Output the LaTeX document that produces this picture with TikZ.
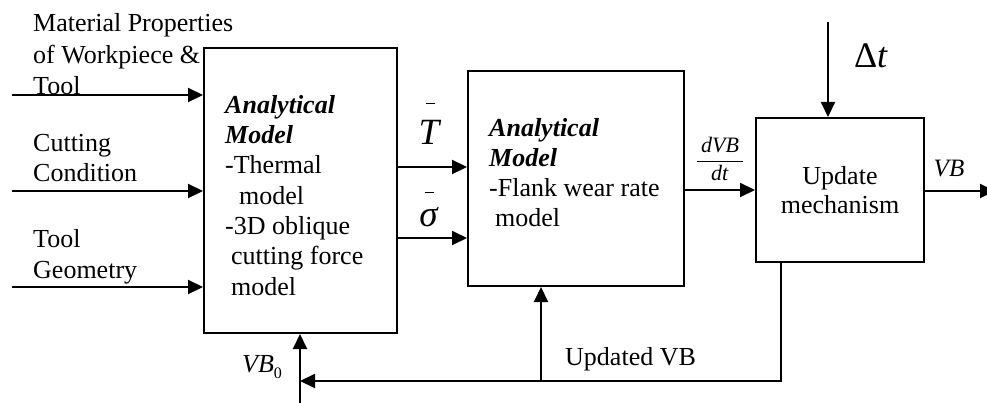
\documentclass[tikz,border=0pt]{standalone}
\usepackage{fontspec}
\setmainfont{Liberation Serif}
\usetikzlibrary{arrows.meta}
\begin{document}
\begin{tikzpicture}[x=1pt,y=-1pt,
  box/.style={draw,line width=2pt,inner sep=0pt},
  flow/.style={line width=2pt,line join=miter,-{Triangle[length=15pt,width=14pt]}},
  wire/.style={line width=2pt,line join=miter},
  lbl/.style={inner sep=0pt,align=left,font=\fontsize{26}{30.3}\selectfont},
  sym/.style={inner sep=0pt,align=center}]
\useasboundingbox (0,0) rectangle (987,403);

% blocks
\node[box,minimum width=193pt,minimum height=285pt] (anl) at (300.5,190.5) {};
\node[box,minimum width=216pt,minimum height=215pt] (wear) at (576,178.5) {};
\node[box,minimum width=168pt,minimum height=144pt,align=center,
      font=\fontsize{26}{29}\selectfont] (upd) at (840,190) {Update\\mechanism};

% block texts (anchored at the baseline of the last line)
\node[lbl,anchor=base west] (anltxt) at (225,295)
  {\textbf{\textit{Analytical}}\\\textbf{\textit{Model}}\\-Thermal\\\hspace*{14pt}model\\-3D oblique\\\hspace*{6pt}cutting force\\\hspace*{6pt}model};
\node[lbl,anchor=base west] (weartxt) at (489,227)
  {\textbf{\textit{Analytical}}\\\textbf{\textit{Model}}\\-Flank wear rate\\\hspace*{6pt}model};

% inputs
\node[lbl,anchor=base west,font=\fontsize{26}{31.5}\selectfont] (matl) at (33,95)
  {Material Properties\\of Workpiece \&\\Tool};
\node[lbl,anchor=base west] (cond) at (33,182) {Cutting\\Condition};
\node[lbl,anchor=base west] (geom) at (33,278) {Tool\\Geometry};

\coordinate (in1) at (12,95);
\coordinate (in2) at (12,191);
\coordinate (in3) at (12,287);
\draw[flow] (in1) -- (in1 -| anl.west);
\draw[flow] (in2) -- (in2 -| anl.west);
\draw[flow] (in3) -- (in3 -| anl.west);

% mean temperature and stress
\node[sym,anchor=base,font=\fontsize{37}{30}\selectfont] (tlab) at (430,145)
  {\rule{9pt}{1.2pt}\\[11pt]\textit{T}};
\node[sym,anchor=base,font=\fontsize{37}{30}\selectfont] (slab) at (429,227)
  {\rule{9pt}{1.2pt}\\[4pt]\textit{σ}};
\coordinate (tl) at (0,167);
\coordinate (sl) at (0,238);
\draw[flow] (anl.east |- tl) -- (wear.west |- tl);
\draw[flow] (anl.east |- sl) -- (wear.west |- sl);

% wear rate
\node[inner sep=0pt,anchor=base,font=\fontsize{22}{22}\selectfont] (rate) at (720,166.5)
  {$\displaystyle\frac{\hbox{\,\textit{dVB}\,}}{\hbox{\textit{dt}}}$};
\coordinate (rl) at (0,190);
\draw[flow] (wear.east |- rl) -- (upd.west |- rl);

% time step
\node[inner sep=0pt,anchor=base,font=\fontsize{36}{36}\selectfont] (dtlab) at (871,68) {Δ\textit{t}};
\coordinate (dtop) at (828,22);
\draw[flow] (dtop) -- (upd.north -| dtop);

% output
\node[inner sep=0pt,anchor=base,font=\fontsize{25}{25}\selectfont] (vbout) at (949,177) {\textit{VB}};
\coordinate (vbend) at (995,191);
\draw[flow] (upd.east |- vbend) -- (vbend);

% feedback loop
\coordinate (fbR) at (781,381);
\coordinate (fbJ) at (541,381);
\coordinate (fbL) at (300,381);
\coordinate (vbs) at (300,405);
\draw[wire] (upd.south -| fbR) -- (fbR) -- (fbJ);
\draw[flow] (fbJ) -- (fbL);
\draw[flow] (fbJ) -- (wear.south -| fbJ);
\draw[flow] (vbs) -- (anl.south -| vbs);
\node[lbl,anchor=base west] (updlab) at (565,365) {Updated VB};
\node[inner sep=0pt,anchor=base west,font=\fontsize{26}{26}\selectfont] (vb0) at (242,372)
  {\textit{VB}\raisebox{-6pt}{\fontsize{16}{16}\selectfont 0}};
\end{tikzpicture}
\end{document}
